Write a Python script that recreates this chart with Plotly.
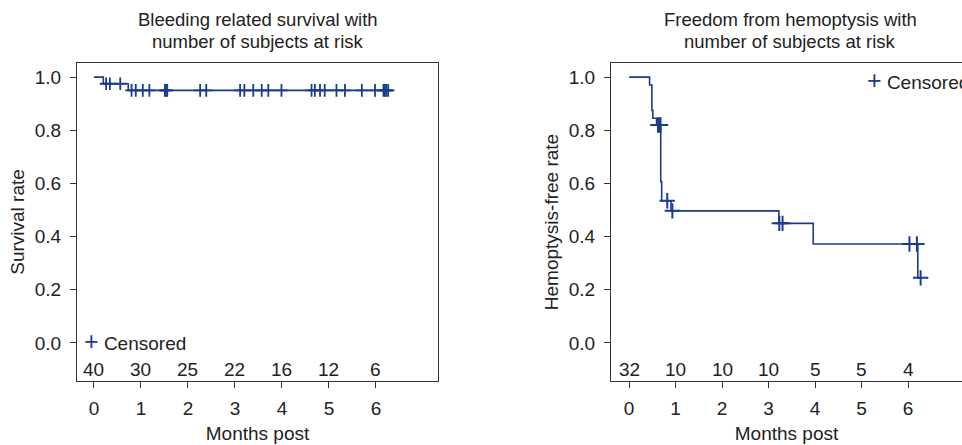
import numpy as np
import plotly.graph_objects as go

# ---- data: bleeding related survival (left) ----
bleed_t = [0, 0.20, 0.73, 6.37]
bleed_s = [1.0, 0.975, 0.95, 0.95]
bleed_cens = [0.26, 0.34, 0.56, 0.80, 0.89, 1.04, 1.18, 1.51, 1.53, 1.56, 2.26, 2.39,
              3.11, 3.20, 3.39, 3.57, 3.71, 3.99, 4.63, 4.70, 4.81, 4.91, 5.16, 5.34,
              5.70, 5.98, 6.16, 6.19, 6.22, 6.26]
bleed_risk = [40, 30, 25, 22, 16, 12, 6]

# ---- data: freedom from hemoptysis (right) ----
hemo_t = [0, 0.44, 0.49, 0.51, 0.59, 0.68, 0.70, 0.90, 3.22, 3.96, 6.21, 6.30]
hemo_s = [1.0, 0.97, 0.875, 0.845, 0.82, 0.607, 0.535, 0.497, 0.45, 0.372, 0.245, 0.245]
hemo_cens = [0.62, 0.655, 0.675, 0.82, 0.93, 3.23, 3.30, 6.03, 6.19, 6.27]
hemo_risk = [32, 10, 10, 10, 5, 5, 4]

risk_months = [0, 1, 2, 3, 4, 5, 6]
y_ticks = [0.0, 0.2, 0.4, 0.6, 0.8, 1.0]

COL = "#1b3c8c"
FONT = "Liberation Sans, Arial, Helvetica, sans-serif"
TXT = "#222222"
FS = 19
W, H = 962, 445
MT, MB = 63, 64
PH = H - MT - MB


def step_at(times, surv, t):
    idx = np.searchsorted(np.asarray(times), t, side="right") - 1
    return [surv[i] for i in idx]


def py(pix):
    """paper y from pixel y (top origin)"""
    return (H - MB - pix) / PH


fig = go.Figure()

# left curve
fig.add_trace(go.Scatter(x=bleed_t, y=bleed_s, mode="lines", line=dict(color=COL, width=1.6, shape="hv"),
                         showlegend=False, xaxis="x", yaxis="y"))
fig.add_trace(go.Scatter(x=bleed_cens, y=step_at(bleed_t, bleed_s, bleed_cens), mode="markers",
                         marker=dict(symbol="cross-thin", size=9, line=dict(color=COL, width=1.8)),
                         showlegend=False, xaxis="x", yaxis="y"))

# right curve
fig.add_trace(go.Scatter(x=hemo_t, y=hemo_s, mode="lines", line=dict(color=COL, width=1.6, shape="hv"),
                         showlegend=False, xaxis="x2", yaxis="y2"))
fig.add_trace(go.Scatter(x=hemo_cens, y=step_at(hemo_t, hemo_s, hemo_cens), mode="markers",
                         marker=dict(symbol="cross-thin", size=11, line=dict(color=COL, width=2.0)),
                         showlegend=False, xaxis="x2", yaxis="y2"))

L_dom = [77 / W, 438 / W]
R_dom = [611 / W, 1.0]

annotations = []
for m, n in zip(risk_months, bleed_risk):
    annotations.append(dict(x=m, y=-0.10, xref="x", yref="y", text=str(n), showarrow=False,
                            font=dict(size=FS, color=TXT, family=FONT)))
for m, n in zip(risk_months, hemo_risk):
    annotations.append(dict(x=m, y=-0.10, xref="x2", yref="y2", text=str(n), showarrow=False,
                            font=dict(size=FS, color=TXT, family=FONT)))

titles = [
    (258 / W, ["Bleeding related survival with", "number of subjects at risk"]),
    (790 / W, ["Freedom from hemoptysis with", "number of subjects at risk"]),
]
for xc, lines in titles:
    for ypix, line in zip([20, 41], lines):
        annotations.append(dict(x=xc, y=py(ypix), xref="paper", yref="paper", text=line,
                                showarrow=False, xanchor="center", yanchor="middle",
                                font=dict(size=FS - 0.5, color=TXT, family=FONT)))

# legends ("+ Censored")
leg_text = f"<span style='color:{COL};font-size:25px'>+</span> Censored"
annotations.append(dict(x=82 / W, y=py(341), xref="paper", yref="paper", text=leg_text,
                        showarrow=False, xanchor="left", yanchor="middle",
                        font=dict(size=FS, color=TXT, family=FONT)))
annotations.append(dict(x=865 / W, y=py(80), xref="paper", yref="paper", text=leg_text,
                        showarrow=False, xanchor="left", yanchor="middle",
                        font=dict(size=FS, color=TXT, family=FONT)))

axis_common = dict(showgrid=False, zeroline=False, showline=True, linecolor="#333333", linewidth=1.3,
                   ticks="outside", ticklen=6, tickwidth=1.2, tickcolor="#333333",
                   tickfont=dict(size=FS, color=TXT, family=FONT))

fig.update_layout(
    width=W, height=H,
    margin=dict(l=0, r=0, t=MT, b=MB, autoexpand=False),
    paper_bgcolor="white", plot_bgcolor="white",
    font=dict(family=FONT, color=TXT),
    showlegend=False,
    xaxis=dict(domain=L_dom, range=[-0.36, 7.32], tickvals=risk_months, mirror=True, anchor="y",
               ticklabelstandoff=4,
               title=dict(text="Months post", font=dict(size=FS, color=TXT, family=FONT), standoff=8),
               **axis_common),
    yaxis=dict(domain=[0, 1], range=[-0.143, 1.053], tickvals=y_ticks, tickformat=".1f", mirror=True,
               anchor="x", ticklabelstandoff=5,
               title=dict(text="Survival rate", font=dict(size=FS, color=TXT, family=FONT), standoff=4),
               **axis_common),
    xaxis2=dict(domain=R_dom, range=[-0.39, 7.16], tickvals=risk_months, mirror=True, anchor="y2",
                ticklabelstandoff=4,
                title=dict(text="Months post", font=dict(size=FS, color=TXT, family=FONT), standoff=8),
                **axis_common),
    yaxis2=dict(domain=[0, 1], range=[-0.143, 1.053], tickvals=y_ticks, tickformat=".1f", mirror=False,
                anchor="x2", ticklabelstandoff=5,
                title=dict(text="Hemoptysis-free rate", font=dict(size=FS, color=TXT, family=FONT), standoff=4),
                **axis_common),
    annotations=annotations,
)

fig.write_html("out.html", config={"displayModeBar": False},
               post_script="document.body.style.margin='0';document.body.style.padding='0';document.body.style.overflow='hidden';")
